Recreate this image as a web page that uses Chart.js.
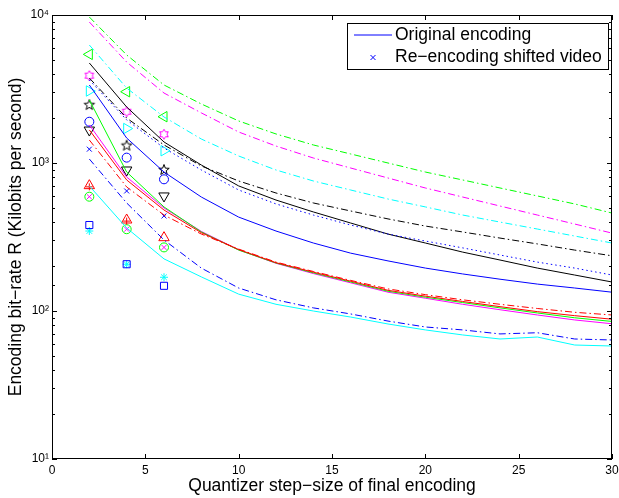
<!DOCTYPE html>
<html>
<head>
<meta charset="utf-8">
<script src="https://cdn.jsdelivr.net/npm/chart.js@4/dist/chart.umd.min.js"></script>
<style>
html,body{margin:0;padding:0;background:#fff;}
canvas{display:block;}
</style>
</head>
<body>
<canvas id="grafico" width="619" height="498"></canvas>
<script>
// passos de quantização (eixo x)
const passos = [2,4,6,8,10,12,14,16,18,20,22,24,26,28,30];

// curvas da codificação original (kbps)
const verdeTracoPonto   = [9690,5370,3365,2505,1923,1571,1324,1151,1000,869,768,678,599,529,459];
const magentaTracoPonto = [8970,4810,2970,2180,1620,1302,1081,925,792,678,589,512,445,387,336];
const cianoTracoPonto   = [6270,3210,2047,1452,1115,897,756,657,571,505,445,399,358,321,288];
const pretoTracoPonto   = [3750,2013,1324,955,756,627,537,474,419,375,342,311,284,258,236];
const azulPontilhado    = [3640,1955,1262,897,657,529,445,381,331,297,267,239,214,195,175];
const pretoCheio        = [4740,2390,1387,969,700,562,467,393,331,288,250,221,195,175,157];
const azulCheio         = [3365,1475,869,589,431,347,288,246,218,195,178,164,152,143,134];
const vermelhoTracoPonto= [1430,689,445,331,262,214,185,161,141,129,119,111,104,98,94];
const vermelhoCheio     = [1672,768,481,338,260,212,183,159,138,126,116,107,99,93,88];
const verdeCheio        = [2665,869,505,342,258,211,181,157,136,124,114,105,97,90,85];
const magentaCheio      = [1808,804,497,345,259,210,179,155,134,122,111,102,94,87,82];
const azulTracoPonto    = [1064,537,302,195,143,119,105,95.5,85.5,78,74.5,70,71.3,64.7,63.7];
const cianoCheio        = [700,364,225,170,130,111,100,91,81.7,74.5,68.9,64.7,66.7,58.9,58];

// re-codificação do vídeo deslocado
const passosDeslocados = [2,4,6];
const trianguloEsqVerde     = [5420,3030,2055];
const hexagramaMagenta      = [3890,2220,1563];
const trianguloDirCiano     = [3065,1710,1210];
const pentagramaPreto       = [2465,1310,897];
const circuloAzul           = [1900,1087,776];
const trianguloBaixoPreto   = [1670,897,599];
const xAzul                 = [1240,647,439];
const trianguloCimaVermelho = [703,412,313];
const circuloVerde          = [592,357,269];
const xMagenta              = [592,357,269];
const quadradoAzul          = [381,207,148];
const asteriscoCiano        = [347,207,169];
const passosMais = [2,4];
const maisVermelho          = [690,405];

const ticksX = [0,5,10,15,20,25,30];
const rotulosY = {10:"10\u00B9",100:"10\u00B2",1000:"10\u00B3",10000:"10\u2074"};
const legendaTextos = ["Original encoding","Re\u2212encoding shifted video"];

const FONTE = "'Liberation Sans', Arial, sans-serif";
const TRACO_PONTO = [7,3,1.5,3];

function pts(xs, ys){ return xs.map((x,i)=>({x:x, y:ys[i]})); }

function curva(ys, cor, dash){
  return {data:pts(passos, ys), borderColor:cor, borderWidth:1, borderDash:dash||[],
    pointRadius:0, fill:false, tension:0};
}
function marcador(xs, ys, cor, estilo, raio, rot){
  return {data:pts(xs, ys), showLine:false, borderColor:cor, backgroundColor:'rgba(0,0,0,0)',
    pointBorderColor:cor, pointBackgroundColor:'rgba(0,0,0,0)', pointBorderWidth:1,
    pointStyle:estilo, pointRadius:raio, pointRotation:rot||0};
}

// estrelas (pentagrama / hexagrama) desenhadas num canvas pequeno
function estrela(pontas, rExt, rInt, cor){
  const c = document.createElement('canvas'); const s = 14;
  c.width = s; c.height = s;
  const g = c.getContext('2d');
  g.strokeStyle = cor; g.lineWidth = 1;
  g.beginPath();
  for (let i=0;i<pontas*2;i++){
    const r = i%2 ? rInt : rExt;
    const a = -Math.PI/2 + i*Math.PI/pontas;
    g.lineTo(s/2 + r*Math.cos(a), s/2 + r*Math.sin(a));
  }
  g.closePath(); g.stroke();
  return c;
}
const pentagrama = estrela(5, 5.5, 2.3, '#000');
const hexagrama = estrela(6, 5, 2.9, '#ff00ff');

// moldura, ticks para dentro e legenda
const moldura = {
  id:'moldura',
  afterDraw(chart){
    const {ctx, chartArea:a, scales:{x, y}} = chart;
    ctx.save();
    ctx.strokeStyle = '#000';
    ctx.lineWidth = 1;
    ctx.setLineDash([]);
    ctx.beginPath();
    ticksX.forEach(v => {
      const px = Math.round(x.getPixelForValue(v)) + 0.5;
      ctx.moveTo(px, a.bottom); ctx.lineTo(px, a.bottom - 5);
      ctx.moveTo(px, a.top); ctx.lineTo(px, a.top + 5);
    });
    y.ticks.forEach(t => {
      const l = Math.log10(t.value);
      const maior = Math.abs(l - Math.round(l)) < 1e-9;
      const len = maior ? 5 : 3;
      const py = Math.round(y.getPixelForValue(t.value)) + 0.5;
      ctx.moveTo(a.left, py); ctx.lineTo(a.left + len, py);
      ctx.moveTo(a.right, py); ctx.lineTo(a.right - len, py);
    });
    ctx.stroke();
    ctx.strokeRect(Math.round(a.left)+0.5, Math.round(a.top)+0.5, Math.round(a.width)-1, Math.round(a.height)-1);

    // legenda
    const lx = 347.5, ly = 23.5, lw = 261, lh = 46;
    ctx.fillStyle = '#fff';
    ctx.fillRect(lx, ly, lw, lh);
    ctx.strokeRect(lx, ly, lw, lh);
    ctx.beginPath();
    ctx.strokeStyle = '#0000ff';
    ctx.moveTo(354, 35); ctx.lineTo(392, 35);
    ctx.moveTo(370.5, 55); ctx.lineTo(375.5, 60);
    ctx.moveTo(375.5, 55); ctx.lineTo(370.5, 60);
    ctx.stroke();
    ctx.fillStyle = '#000';
    ctx.font = '17.5px ' + FONTE;
    ctx.textBaseline = 'middle';
    ctx.fillText(legendaTextos[0], 395, 35);
    ctx.fillText(legendaTextos[1], 395, 57);
    ctx.restore();
  }
};

new Chart(document.getElementById('grafico'), {
  type:'line',
  data:{datasets:[
    curva(verdeTracoPonto, '#00ff00', TRACO_PONTO),
    curva(magentaTracoPonto, '#ff00ff', TRACO_PONTO),
    curva(cianoTracoPonto, '#00ffff', TRACO_PONTO),
    curva(pretoTracoPonto, '#000000', TRACO_PONTO),
    curva(azulPontilhado, '#0000ff', [1.5,3]),
    curva(pretoCheio, '#000000'),
    curva(azulCheio, '#0000ff'),
    curva(vermelhoTracoPonto, '#ff0000', TRACO_PONTO),
    curva(vermelhoCheio, '#ff0000'),
    curva(verdeCheio, '#00ff00'),
    curva(magentaCheio, '#ff00ff'),
    curva(azulTracoPonto, '#0000ff', TRACO_PONTO),
    curva(cianoCheio, '#00ffff'),
    marcador(passosDeslocados, trianguloEsqVerde, '#00ff00', 'triangle', 6, -90),
    marcador(passosDeslocados, hexagramaMagenta, '#ff00ff', hexagrama, 5),
    marcador(passosDeslocados, trianguloDirCiano, '#00ffff', 'triangle', 6, 90),
    marcador(passosDeslocados, pentagramaPreto, '#000000', pentagrama, 5),
    marcador(passosDeslocados, circuloAzul, '#0000ff', 'circle', 4.5),
    marcador(passosDeslocados, trianguloBaixoPreto, '#000000', 'triangle', 6, 180),
    marcador(passosDeslocados, xAzul, '#0000ff', 'crossRot', 3.5),
    marcador(passosDeslocados, trianguloCimaVermelho, '#ff0000', 'triangle', 6),
    marcador(passosMais, maisVermelho, '#ff0000', 'cross', 3.5),
    marcador(passosDeslocados, circuloVerde, '#00ff00', 'circle', 4.5),
    marcador(passosDeslocados, xMagenta, '#ff00ff', 'crossRot', 3.5),
    marcador(passosDeslocados, quadradoAzul, '#0000ff', 'rect', 5),
    marcador(passosDeslocados, asteriscoCiano, '#00ffff', 'star', 4)
  ]},
  options:{
    responsive:false,
    animation:false,
    events:[],
    layout:{padding:{top:15, right:5, left:0, bottom:0}},
    plugins:{legend:{display:false}, tooltip:{enabled:false}},
    scales:{
      x:{
        type:'linear', min:0, max:30,
        afterBuildTicks: s => { s.ticks = ticksX.map(v => ({value:v})); },
        ticks:{color:'#000', font:{family:FONTE, size:12}, padding:4, maxRotation:0, autoSkip:false},
        grid:{display:false, drawTicks:false},
        border:{display:false},
        title:{display:true, text:'Quantizer step\u2212size of final encoding', color:'#000',
          font:{family:FONTE, size:17.5}, padding:{top:0, bottom:1}},
        afterFit: s => { s.height = 39; s.paddingLeft = 0; s.paddingRight = 0; }
      },
      y:{
        type:'logarithmic', min:10, max:10000,
        ticks:{color:'#000', font:{family:FONTE, size:12}, padding:3, autoSkip:false,
          callback: v => rotulosY[v] || ''},
        grid:{display:false, drawTicks:false},
        border:{display:false},
        title:{display:true, text:'Encoding bit\u2212rate R (Kilobits per second)', color:'#000',
          font:{family:FONTE, size:17.5}, padding:{top:6, bottom:0}},
        afterFit: s => { s.width = 52; s.paddingTop = 0; s.paddingBottom = 0; }
      }
    }
  },
  plugins:[moldura]
});
</script>
</body>
</html>
